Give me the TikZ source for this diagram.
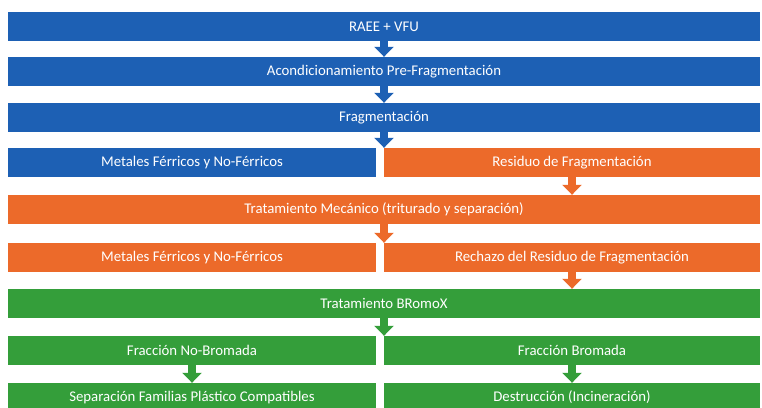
\documentclass[tikz,border=0pt]{standalone}
\usepackage{fontspec}
\setmainfont{Carlito}
\usetikzlibrary{arrows.meta}
\definecolor{raeeblue}{RGB}{29,96,180}
\definecolor{resorange}{RGB}{236,106,42}
\definecolor{bromgreen}{RGB}{52,158,58}

\begin{document}
\begin{tikzpicture}[x = 1pt, y = -1pt,
    bar/.style = {minimum height = 29pt, inner sep = 0pt, text = white,
                  font = \fontsize{14.8}{16}\selectfont},
    full/.style = {bar, minimum width = 752pt},
    leftbox/.style = {bar, minimum width = 368pt},
    rightbox/.style = {bar, minimum width = 376pt},
    flow/.style = {line width = 8pt, -{Triangle[width = 19pt, length = 10pt]}}]
        \useasboundingbox (0, 0) rectangle (762, 407);
        \clip (0, 0) rectangle (762, 407);
        % blue part
        \node[full, fill = raeeblue](raee) at (384, 26.5){RAEE + VFU};
        \node[full, fill = raeeblue](acond) at (384, 71.5){Acondicionamiento Pre-Fragmentación};
        \node[full, fill = raeeblue](frag) at (384, 117.5){Fragmentación};
        \node[leftbox, fill = raeeblue](metA) at (192, 162.5){Metales Férricos y No-Férricos};
        % orange part
        \node[rightbox, fill = resorange](resid) at (572, 162.5){Residuo de Fragmentación};
        \node[full, fill = resorange](mech) at (384, 209.5){Tratamiento Mecánico (triturado y separación)};
        \node[leftbox, fill = resorange](metB) at (192, 257.5){Metales Férricos y No-Férricos};
        \node[rightbox, fill = resorange](rech) at (572, 257.5){Rechazo del Residuo de Fragmentación};
        % green part
        \node[full, fill = bromgreen](bromox) at (384, 303.5){Tratamiento BRomoX};
        \node[leftbox, fill = bromgreen](nobrom) at (192, 350.5){Fracción No-Bromada};
        \node[rightbox, fill = bromgreen](brom) at (572, 350.5){Fracción Bromada};
        \node[leftbox, fill = bromgreen](sep) at (192, 397.5){Separación Familias Plástico Compatibles};
        \node[rightbox, fill = bromgreen](destr) at (572, 397.5){Destrucción (Incineración)};
        % arrows
        \draw[flow, raeeblue](raee) -- (acond);
        \draw[flow, raeeblue](acond) -- (frag);
        \draw[flow, raeeblue](frag.south) -- (frag.south |- metA.north);
        \draw[flow, resorange](resid) -- (resid.south |- mech.north);
        \draw[flow, resorange](mech.south) -- (mech.south |- rech.north);
        \draw[flow, resorange](rech) -- (rech.south |- bromox.north);
        \draw[flow, bromgreen](bromox.south) -- (bromox.south |- nobrom.north);
        \draw[flow, bromgreen](nobrom) -- (sep);
        \draw[flow, bromgreen](brom) -- (destr);
\end{tikzpicture}
\end{document}
